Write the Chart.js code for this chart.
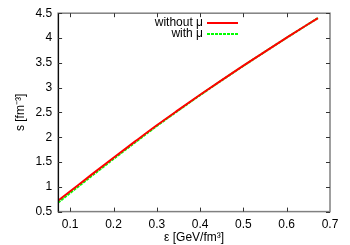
<!DOCTYPE html>
<html>
<head>
<meta charset="utf-8">
<script src="https://cdn.jsdelivr.net/npm/chart.js@4/dist/chart.umd.min.js"></script>
<style>
  html, body { margin: 0; padding: 0; background: #fff; }
  #wrap { width: 350px; height: 245px; position: relative; }
</style>
</head>
<body>
<div id="wrap"><canvas id="chart"></canvas></div>
<script>
// energy density eps [GeV/fm^3] and entropy density s [fm^-3]
const epsNoMu = [0.072, 0.1, 0.15, 0.2, 0.25, 0.3, 0.35, 0.4, 0.45, 0.5, 0.55, 0.6, 0.65, 0.672];
const sNoMu   = [0.72, 0.91, 1.25, 1.585, 1.915, 2.24, 2.55, 2.855, 3.152, 3.442, 3.727, 4.007, 4.282, 4.402];
const epsMu   = [0.072, 0.1, 0.15, 0.2, 0.25, 0.3, 0.35, 0.4, 0.45, 0.5, 0.55, 0.6, 0.65, 0.672];
const sMu     = [0.68, 0.875, 1.22, 1.56, 1.895, 2.225, 2.54, 2.848, 3.147, 3.438, 3.724, 4.005, 4.281, 4.402];

const xTicks = [0.1, 0.2, 0.3, 0.4, 0.5, 0.6, 0.7];
const yTicks = [0.5, 1, 1.5, 2, 2.5, 3, 3.5, 4, 4.5];
const seriesNames = ['without \u03bc', 'with \u03bc'];
const xTitle = '\u03b5 [GeV/fm\u00b3]';
const yTitle = 's [fm\u207b\u00b3]';

const FONT = 'Liberation Sans, Arial, sans-serif';

function pts(xs, ys) {
    return xs.map((x, i) => ({ x: x, y: ys[i] }));
}

// gnuplot-like frame with inward ticks and mirrored ticks
const framePlugin = {
    id: 'frame',
    afterDatasetsDraw(chart) {
        const ctx = chart.ctx;
        const a = chart.chartArea;
        const xs = chart.scales.x, ys = chart.scales.y;
        ctx.save();
        ctx.strokeStyle = '#808080';
        ctx.lineWidth = 1.5;
        ctx.strokeRect(a.left, a.top, a.right - a.left, a.bottom - a.top);
        ctx.strokeStyle = '#000';
        ctx.lineWidth = 1;
        ctx.beginPath();
        ctx.moveTo(a.left + 0.5, a.top);
        ctx.lineTo(a.left + 0.5, a.bottom);
        ctx.stroke();
        ctx.strokeStyle = '#333';
        ctx.beginPath();
        xTicks.forEach(v => {
            const px = Math.round(xs.getPixelForValue(v)) + 0.5;
            if (px < a.left || px > a.right) return;
            ctx.moveTo(px, a.bottom); ctx.lineTo(px, a.bottom - 4);
            ctx.moveTo(px, a.top); ctx.lineTo(px, a.top + 4);
        });
        yTicks.forEach(v => {
            const py = Math.round(ys.getPixelForValue(v)) + 0.5;
            ctx.moveTo(a.left, py); ctx.lineTo(a.left + 4, py);
            ctx.moveTo(a.right, py); ctx.lineTo(a.right - 4, py);
        });
        ctx.stroke();

        // x axis title
        ctx.font = '12px ' + FONT;
        ctx.fillStyle = '#000';
        ctx.textAlign = 'center';
        ctx.textBaseline = 'middle';
        ctx.fillText(xTitle, (a.left + a.right) / 2, 238);

        // legend, gnuplot style: right-aligned text then sample line
        ctx.textAlign = 'right';
        const rows = [
            { y: 23, color: '#ff0000', dash: [] },
            { y: 34, color: '#00ff00', dash: [3, 1] }
        ];
        rows.forEach((r, i) => {
            ctx.fillText(seriesNames[i], 203, r.y);
            ctx.strokeStyle = r.color;
            ctx.lineWidth = 2;
            ctx.setLineDash(r.dash);
            ctx.beginPath();
            ctx.moveTo(207, r.y);
            ctx.lineTo(238, r.y);
            ctx.stroke();
        });
        ctx.restore();
    }
};

new Chart(document.getElementById('chart'), {
    type: 'scatter',
    data: {
        datasets: [
            {
                label: seriesNames[0],
                data: pts(epsNoMu, sNoMu),
                showLine: true,
                borderColor: '#ff0000',
                borderWidth: 2,
                pointRadius: 0,
                cubicInterpolationMode: 'monotone'
            },
            {
                label: seriesNames[1],
                data: pts(epsMu, sMu),
                showLine: true,
                borderColor: '#00ff00',
                borderWidth: 2,
                borderDash: [3, 1],
                pointRadius: 0,
                cubicInterpolationMode: 'monotone'
            }
        ]
    },
    options: {
        responsive: true,
        maintainAspectRatio: false,
        animation: false,
        layout: { padding: { left: 13, right: 20, top: 11, bottom: 7 } },
        plugins: {
            legend: { display: false },
            tooltip: { enabled: false }
        },
        scales: {
            x: {
                type: 'linear',
                min: 0.072,
                max: 0.7,
                afterBuildTicks: s => { s.ticks = xTicks.map(v => ({ value: v })); },
                grid: { display: false, drawTicks: false },
                border: { display: false },
                ticks: {
                    color: '#000',
                    padding: 6,
                    maxRotation: 0,
                    font: { family: FONT, size: 12 },
                    callback: v => String(v)
                }
            },
            y: {
                type: 'linear',
                min: 0.5,
                max: 4.5,
                afterBuildTicks: s => { s.ticks = yTicks.map(v => ({ value: v })); },
                grid: { display: false, drawTicks: false },
                border: { display: false },
                ticks: {
                    color: '#000',
                    padding: 6,
                    font: { family: FONT, size: 12 },
                    callback: v => String(v)
                },
                title: {
                    display: true,
                    text: yTitle,
                    color: '#000',
                    font: { family: FONT, size: 12 },
                    padding: { top: 0, bottom: 2 }
                }
            }
        }
    },
    plugins: [framePlugin]
});
</script>
</body>
</html>
